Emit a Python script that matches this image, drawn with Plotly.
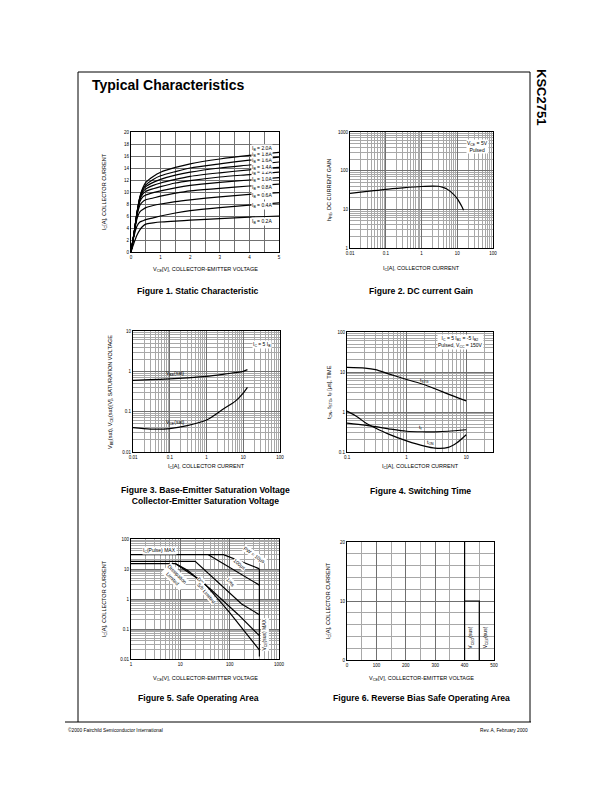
import math
import plotly.graph_objects as go

# ---- Figure 1: static characteristic ----
vce1 = [0, 0.1, 0.2, 0.3, 0.4, 0.5, 0.75, 1, 1.5, 2, 3, 4, 5]
ib_labels = ["0.2A", "0.4A", "0.6A", "0.8A", "1.0A", "1.2A", "1.4A", "1.6A", "1.8A", "2.0A"]
ic_curves = [
    [0, 1.5, 2.8, 3.7, 4.3, 4.65, 4.85, 5.0, 5.15, 5.3, 5.55, 5.8, 6.0],
    [0, 2.6, 4.3, 5.0, 5.2, 5.4, 5.7, 6.0, 6.5, 6.9, 7.4, 7.8, 8.2],
    [0, 3.0, 5.5, 6.7, 7.1, 7.4, 7.75, 8.0, 8.4, 8.7, 9.2, 9.6, 9.9],
    [0, 3.0, 6.0, 7.8, 8.4, 8.7, 9.0, 9.3, 9.8, 10.2, 10.6, 11.0, 11.3],
    [0, 3.0, 6.2, 8.4, 9.2, 9.5, 9.9, 10.2, 10.7, 11.1, 11.6, 12.0, 12.4],
    [0, 3.0, 6.3, 8.7, 9.7, 10.1, 10.55, 10.9, 11.5, 11.9, 12.5, 12.9, 13.3],
    [0, 3.0, 6.4, 8.9, 10.0, 10.5, 11.1, 11.5, 12.1, 12.6, 13.2, 13.7, 14.1],
    [0, 3.0, 6.4, 9.0, 10.3, 10.9, 11.6, 12.1, 12.8, 13.3, 14.0, 14.5, 15.0],
    [0, 3.0, 6.5, 9.1, 10.5, 11.2, 12.1, 12.7, 13.4, 14.0, 14.7, 15.3, 15.8],
    [0, 3.0, 6.5, 9.2, 10.7, 11.6, 12.6, 13.3, 14.1, 14.7, 15.5, 16.1, 16.6],
]
ib_label_y = [5.1, 7.8, 9.4, 10.7, 12.1, 13.2, 14.1, 15.2, 16.2, 17.2]

# ---- Figure 2: DC current gain ----
ic2 = [0.01, 0.03, 0.1, 0.3, 1, 2, 3, 4, 5, 7, 10, 13, 15]
hfe = [26, 29, 33, 36, 39, 40, 39.5, 37, 34, 27, 19, 12.5, 9.5]

# ---- Figure 3: saturation voltage ----
ic3 = [0.01, 0.03, 0.1, 0.3, 1, 3, 6, 10, 13]
vbe_sat = [0.6, 0.62, 0.65, 0.69, 0.75, 0.85, 0.93, 1.0, 1.1]
vce_sat = [0.04, 0.037, 0.038, 0.045, 0.062, 0.12, 0.18, 0.29, 0.4]

# ---- Figure 4: switching time ----
ic4_stg = [0.1, 0.2, 0.3, 0.5, 1, 2, 3, 5, 10]
t_stg = [13, 12.5, 11.5, 9, 6.5, 4.8, 3.8, 2.8, 1.9]
ic4_f = [0.1, 0.2, 0.3, 0.5, 1, 2, 3, 5, 10]
t_f = [0.53, 0.47, 0.43, 0.38, 0.33, 0.32, 0.32, 0.33, 0.36]
ic4_on = [0.1, 0.15, 0.2, 0.3, 0.5, 1, 2, 3, 5, 7, 10]
t_on = [1.05, 0.75, 0.55, 0.4, 0.28, 0.19, 0.14, 0.125, 0.13, 0.17, 0.27]

# ---- Figure 5: safe operating area ----
soa_10us_v = [1, 75, 380, 400]
soa_10us_i = [30, 30, 10.5, 10]
soa_100us_v = [37, 400]
soa_100us_i = [30, 2.9]
soa_1ms_v = [1, 20, 175, 400]
soa_1ms_i = [18, 18, 0.68, 0.3]
soa_10ms_v = [1, 8, 14, 40, 150, 400]
soa_10ms_i = [15, 15, 9, 2.2, 0.3, 0.06]
soa_dc_v = [8, 30, 100, 400]
soa_dc_i = [15, 3.5, 0.35, 0.02]
soa_vmax_v = [400, 400]
soa_vmax_i = [10, 0.012]

# ---- Figure 6: reverse bias SOA ----
rb_ceo_v = [400, 400]
rb_ceo_i = [0, 20]
rb_cex_v = [400, 450, 450]
rb_cex_i = [10, 10, 0]

W, H = 612, 792
OFF = 8  # body margin of the html page
FONT = "Liberation Sans, Arial, sans-serif"
NARROW = "Liberation Sans Narrow, Liberation Sans, Arial, sans-serif"
LOG = {2, 3, 4, 5}


def px(x):
    return (x - OFF) / W


def py(y):
    return 1 - (y - OFF) / H


# plot boxes in page pixels: x0, x1, y0(top), y1(bottom)
boxes = {
    1: (131, 279, 132, 252),
    2: (350, 493, 132, 248),
    3: (133, 280, 331, 452),
    4: (347, 493, 332, 452),
    5: (131, 279, 539, 659),
    6: (347, 494, 542, 660),
}

fig = go.Figure()


def add(n, x, y, smooth=True):
    fig.add_trace(go.Scatter(
        x=x, y=y, mode="lines", xaxis=f"x{n}", yaxis=f"y{n}",
        line=dict(color="black", width=1.2, shape="spline" if smooth else "linear",
                  smoothing=0.8),
        showlegend=False, hoverinfo="skip"))


for ic in ic_curves:
    add(1, vce1, ic)
add(2, ic2, hfe)
add(3, ic3, vbe_sat)
add(3, ic3, vce_sat)
add(4, ic4_stg, t_stg)
add(4, ic4_f, t_f)
add(4, ic4_on, t_on)
add(5, soa_10us_v, soa_10us_i, False)
add(5, soa_100us_v, soa_100us_i, False)
add(5, soa_1ms_v, soa_1ms_i, False)
add(5, soa_10ms_v, soa_10ms_i, False)
add(5, soa_dc_v, soa_dc_i, False)
add(5, soa_vmax_v, soa_vmax_i, False)
add(6, rb_ceo_v, rb_ceo_i, False)
add(6, rb_cex_v, rb_cex_i, False)

tickfont = dict(family=FONT, size=4.5, color="black")
base = dict(showline=True, mirror=True, linecolor="black", linewidth=1.3,
            ticks="", tickfont=tickfont, zeroline=False, automargin=False,
            showgrid=True, gridcolor="#707070", gridwidth=0.8, fixedrange=True)
logminor = dict(showgrid=True, gridcolor="#a8a8a8", gridwidth=0.6, dtick="D1", ticks="")


def axes(n, xopt, yopt):
    x0, x1, y0, y1 = boxes[n]
    k = "" if n == 1 else str(n)
    xa = dict(base, domain=[px(x0), px(x1)], anchor=f"y{n}")
    xa.update(xopt)
    ya = dict(base, domain=[py(y1), py(y0)], anchor=f"x{n}")
    ya.update(yopt)
    fig.update_layout(**{f"xaxis{k}": xa, f"yaxis{k}": ya})


axes(1, dict(range=[0, 5], dtick=1, minor=dict(dtick=0.5, showgrid=True, gridcolor="#707070", gridwidth=0.8)),
     dict(range=[0, 20], dtick=2))
axes(2, dict(type="log", range=[-2, 2], dtick=1, minor=logminor),
     dict(type="log", range=[0, 3], dtick=1, minor=logminor))
axes(3, dict(type="log", range=[-2, 2], dtick=1, minor=logminor),
     dict(type="log", range=[-2, 1], dtick=1, minor=logminor))
axes(4, dict(type="log", range=[-1, 1.45], dtick=1, minor=logminor),
     dict(type="log", range=[-1, 2], dtick=1, minor=logminor))
axes(5, dict(type="log", range=[0, 3], dtick=1, minor=logminor),
     dict(type="log", range=[-2, 2], dtick=1, minor=logminor))
axes(6, dict(range=[0, 500], dtick=100, minor=dict(dtick=50, showgrid=True, gridcolor="#a8a8a8", gridwidth=0.6)),
     dict(range=[0, 20], dtick=10, minor=dict(dtick=2, showgrid=True, gridcolor="#a8a8a8", gridwidth=0.6)))

ann = []


def text(x, y, s, size=5.5, angle=0, xanchor="center", family=FONT, bold=False):
    if bold:
        s = f"<b>{s}</b>"
    ann.append(dict(x=px(x), y=py(y), xref="paper", yref="paper", text=s, showarrow=False,
                    textangle=angle, xanchor=xanchor, yanchor="middle",
                    font=dict(family=family, size=size, color="black")))


def dtext(n, x, y, s, size=5, angle=0, xanchor="center", bg=None):
    if n in LOG:
        x, y = math.log10(x), math.log10(y)
    d = dict(x=x, y=y, xref=f"x{n}", yref=f"y{n}", text=s, showarrow=False,
             textangle=angle, xanchor=xanchor, yanchor="middle",
             font=dict(family=FONT, size=size, color="black"), borderpad=0)
    if bg:
        d["bgcolor"] = bg
    ann.append(d)


# page text
text(90, 85, "Typical Characteristics", size=14, xanchor="left", bold=True)
text(541, 97, "KSC2751", size=13, angle=90, bold=True)
text(66, 730, "©2000 Fairchild Semiconductor International", size=4.8, xanchor="left")
text(530, 730, "Rev. A, February 2000", size=4.8, xanchor="right")

# axis titles
text(205, 269, "V<sub>CE</sub>[V], COLLECTOR-EMITTER VOLTAGE")
text(105, 192, "I<sub>C</sub>[A], COLLECTOR CURRENT", angle=-90)
text(421, 268, "I<sub>C</sub>[A], COLLECTOR CURRENT")
text(330, 190, "h<sub>FE</sub>, DC CURRENT GAIN", angle=-90)
text(206, 466, "I<sub>C</sub>[A], COLLECTOR CURRENT")
text(110, 392, "V<sub>BE</sub>(sat), V<sub>CE</sub>(sat)[V], SATURATION VOLTAGE", angle=-90)
text(420, 466, "I<sub>C</sub>[A], COLLECTOR CURRENT")
text(329, 392, "t<sub>ON</sub>, t<sub>STG</sub>, t<sub>F</sub> [μs], TIME", angle=-90)
text(205, 678, "V<sub>CE</sub>[V], COLLECTOR-EMITTER VOLTAGE")
text(104, 599, "I<sub>C</sub>[A], COLLECTOR CURRENT", angle=-90)
text(421, 678, "V<sub>CE</sub>[V], COLLECTOR-EMITTER VOLTAGE")
text(328, 601, "I<sub>C</sub>[A], COLLECTOR CURRENT", angle=-90)

# captions
CAP = 8.6
text(198, 291, "Figure 1. Static Characteristic", size=CAP, family=NARROW, bold=True)
text(421, 291, "Figure 2. DC current Gain", size=CAP, family=NARROW, bold=True)
text(205, 495, "Figure 3. Base-Emitter Saturation Voltage<br>Collector-Emitter Saturation Voltage",
     size=CAP, family=NARROW, bold=True)
text(420, 491, "Figure 4. Switching Time", size=CAP, family=NARROW, bold=True)
text(198, 698, "Figure 5. Safe Operating Area", size=CAP, family=NARROW, bold=True)
text(421, 698, "Figure 6. Reverse Bias Safe Operating Area", size=CAP, family=NARROW, bold=True)

# curve labels
for lab, yy in zip(ib_labels, ib_label_y):
    dtext(1, 4.05, yy, f"I<sub>B</sub> = {lab}", xanchor="left", bg="white")
dtext(2, 18, 430, "V<sub>CE</sub> = 5V<br>Pulsed", xanchor="left", bg="white")
dtext(3, 17, 4.5, "I<sub>C</sub> = 5 I<sub>B</sub>", xanchor="left", bg="white")
dtext(3, 0.14, 0.9, "V<sub>BE</sub>(sat)")
dtext(3, 0.14, 0.055, "V<sub>CE</sub>(sat)")
dtext(4, 3.3, 55, "I<sub>C</sub> = 5 I<sub>B1</sub> = -5 I<sub>B2</sub><br>Pulsed, V<sub>CC</sub> = 150V",
      xanchor="left", bg="white")
dtext(4, 2.0, 6.2, "t<sub>STG</sub>")
dtext(4, 1.7, 0.42, "t<sub>f</sub>")
dtext(4, 2.5, 0.17, "t<sub>ON</sub>")
dtext(5, 1.65, 42, "I<sub>C</sub>(Pulse) MAX", xanchor="left", bg="white")
dtext(5, 320, 30, "PW = 10μs", angle=35, bg="white")
dtext(5, 160, 15, "100μs", angle=40, bg="white")
dtext(5, 105, 3.7, "1ms", angle=50, bg="white")
dtext(5, 7.8, 5.8, "Dissipation<br>Limited", angle=45, bg="white")
dtext(5, 26, 4, "DC", angle=50, bg="white")
dtext(5, 34, 1.6, "S/b Limited", angle=50, bg="white")
dtext(5, 520, 0.065, "V<sub>CE</sub>(sus) MAX", angle=-90, bg="white")
dtext(6, 422, 3.8, "V<sub>CEO</sub>(sus)", angle=-90)
dtext(6, 472, 3.8, "V<sub>CEX</sub>(sus)", angle=-90)

# page frame
frame = dict(color="black", width=1)
shapes = [
    dict(type="line", xref="paper", yref="paper", x0=px(78), x1=px(78), y0=py(72), y1=py(722), line=frame),
    dict(type="line", xref="paper", yref="paper", x0=px(78), x1=px(530), y0=py(72), y1=py(72), line=frame),
    dict(type="line", xref="paper", yref="paper", x0=px(530), x1=px(530), y0=py(72), y1=py(722), line=frame),
    dict(type="line", xref="paper", yref="paper", x0=px(65), x1=px(531), y0=py(722), y1=py(722), line=frame),
]

fig.update_layout(width=W, height=H, margin=dict(l=0, r=0, t=0, b=0, autoexpand=False),
                  paper_bgcolor="white", plot_bgcolor="white",
                  annotations=ann, shapes=shapes, showlegend=False)
fig.write_html("out.html")
